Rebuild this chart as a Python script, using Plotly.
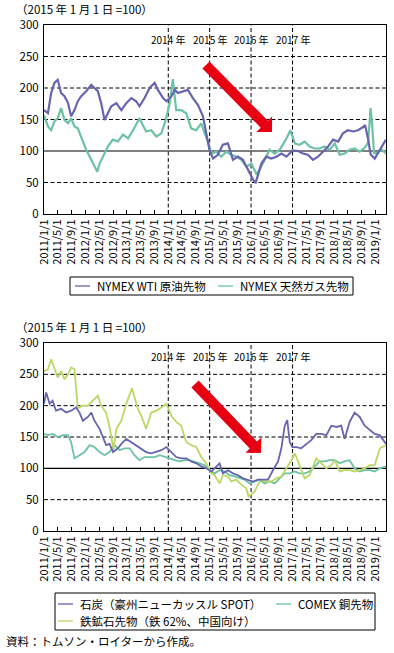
import math
import plotly.graph_objects as go

FONT = "Noto Sans CJK JP"
W, H = 394, 653
PL, PR = 44, 386  # plot-area left/right in pixels

# ---------------- data ----------------
TICK_LABELS = ["2011/1/1", "2011/5/1", "2011/9/1", "2012/1/1", "2012/5/1", "2012/9/1",
               "2013/1/1", "2013/5/1", "2013/9/1", "2014/1/1", "2014/5/1", "2014/9/1",
               "2015/1/1", "2015/5/1", "2015/9/1", "2016/1/1", "2016/5/1", "2016/9/1",
               "2017/1/1", "2017/5/1", "2017/9/1", "2018/1/1", "2018/5/1", "2018/9/1",
               "2019/1/1"]
Y_TICKS = [0, 50, 100, 150, 200, 250, 300]
YEAR_MARKS = ["2014", "2015", "2016", "2017"]
X_RANGE = ["2011-01-01", "2019-04-05"]

wti_dates = ["2011-01-01", "2011-02-05", "2011-03-05", "2011-04-03", "2011-05-02", "2011-06-01",
             "2011-07-01", "2011-08-01", "2011-08-28", "2011-09-27", "2011-10-26", "2011-11-25",
             "2012-01-08", "2012-02-22", "2012-03-21", "2012-04-20", "2012-05-19", "2012-06-18",
             "2012-07-17", "2012-08-16", "2012-09-30", "2012-11-13", "2012-12-27", "2013-02-09",
             "2013-03-24", "2013-04-22", "2013-06-06", "2013-07-20", "2013-09-03", "2013-10-02",
             "2013-11-16", "2013-12-15", "2014-01-29", "2014-02-27", "2014-03-27", "2014-05-10",
             "2014-06-23", "2014-08-06", "2014-09-20", "2014-11-03", "2014-12-02", "2015-01-01",
             "2015-01-31", "2015-03-14", "2015-04-27", "2015-06-11", "2015-07-25", "2015-09-08",
             "2015-10-21", "2015-12-05", "2016-01-18", "2016-02-10", "2016-03-05", "2016-04-01",
             "2016-05-14", "2016-06-28", "2016-08-11", "2016-09-24", "2016-11-08", "2016-12-31",
             "2017-02-19", "2017-04-02", "2017-05-16", "2017-06-30", "2017-08-13", "2017-09-27",
             "2017-11-10", "2017-12-24", "2018-02-07", "2018-03-21", "2018-05-04", "2018-06-18",
             "2018-08-01", "2018-09-15", "2018-10-03", "2018-10-28", "2018-11-20", "2018-12-26",
             "2019-02-09", "2019-04-05"]
wti_values = [165, 160, 192, 208, 213, 192,
              187, 176, 155, 165, 179, 187,
              195, 205, 200, 195, 176, 149,
              160, 171, 176, 165, 176, 184,
              179, 171, 184, 200, 208, 197,
              184, 179, 187, 197, 192, 195,
              197, 184, 173, 155, 128, 100,
              88, 94, 110, 112, 86, 91,
              86, 70, 55, 49, 64, 80,
              91, 88, 91, 96, 91, 101,
              100, 96, 94, 86, 91, 99,
              107, 118, 115, 128, 133, 131,
              133, 138, 141, 120, 95, 88,
              101, 118]

gas_dates = ["2011-01-01", "2011-02-05", "2011-03-05", "2011-04-03", "2011-05-02", "2011-06-01",
             "2011-07-01", "2011-08-01", "2011-08-28", "2011-09-27", "2011-10-26", "2011-11-25",
             "2012-01-08", "2012-02-22", "2012-04-15", "2012-05-05", "2012-06-03", "2012-07-17",
             "2012-08-30", "2012-10-14", "2012-11-28", "2013-01-11", "2013-02-24", "2013-04-22",
             "2013-05-22", "2013-06-20", "2013-08-04", "2013-09-18", "2013-11-01", "2013-12-09",
             "2014-01-14", "2014-02-10", "2014-03-12", "2014-04-25", "2014-06-08", "2014-07-22",
             "2014-09-05", "2014-10-19", "2014-11-18", "2014-12-17", "2015-01-16", "2015-03-01",
             "2015-04-13", "2015-05-27", "2015-07-10", "2015-08-24", "2015-10-07", "2015-11-20",
             "2016-01-04", "2016-02-16", "2016-03-16", "2016-04-30", "2016-06-13", "2016-07-27",
             "2016-09-10", "2016-11-08", "2016-12-13", "2017-01-21", "2017-03-04", "2017-04-17",
             "2017-06-01", "2017-07-14", "2017-08-28", "2017-10-11", "2017-11-25", "2018-01-08",
             "2018-02-21", "2018-04-05", "2018-05-19", "2018-07-02", "2018-08-16", "2018-09-29",
             "2018-10-29", "2018-11-13", "2018-11-20", "2018-12-05", "2018-12-20", "2019-01-10",
             "2019-02-24", "2019-04-05"]
gas_values = [157, 139, 133, 147, 152, 168,
              149, 144, 152, 139, 136, 123,
              102, 86, 67, 80, 91, 107,
              118, 115, 126, 120, 133, 152,
              141, 131, 133, 123, 128, 149,
              176, 214, 165, 165, 160, 136,
              133, 144, 128, 115, 96, 99,
              91, 99, 94, 91, 86, 75,
              80, 64, 70, 86, 102, 96,
              102, 120, 133, 112, 110, 115,
              107, 104, 104, 107, 102, 112,
              94, 96, 102, 104, 99, 105,
              113, 150, 168, 139, 97, 96,
              102, 96]

coal_dates = ["2011-01-01", "2011-01-20", "2011-02-20", "2011-03-18", "2011-04-17", "2011-06-01",
              "2011-07-15", "2011-08-28", "2011-10-11", "2011-11-10", "2011-12-10", "2012-01-23",
              "2012-02-22", "2012-03-21", "2012-05-05", "2012-06-03", "2012-07-02", "2012-08-01",
              "2012-09-01", "2012-10-14", "2012-11-13", "2012-12-27", "2013-02-09", "2013-03-24",
              "2013-05-07", "2013-06-20", "2013-08-04", "2013-09-18", "2013-11-01", "2013-12-15",
              "2014-01-29", "2014-03-12", "2014-04-25", "2014-06-08", "2014-07-22", "2014-09-05",
              "2014-10-19", "2014-12-02", "2015-01-16", "2015-03-01", "2015-03-29", "2015-04-27",
              "2015-06-11", "2015-07-25", "2015-09-08", "2015-10-21", "2015-12-05", "2016-01-18",
              "2016-03-02", "2016-04-15", "2016-05-29", "2016-07-12", "2016-08-26", "2016-09-24",
              "2016-10-24", "2016-11-15", "2016-12-07", "2016-12-30", "2017-02-05", "2017-03-18",
              "2017-05-02", "2017-06-15", "2017-07-29", "2017-09-12", "2017-10-26", "2017-12-09",
              "2018-01-23", "2018-03-06", "2018-04-05", "2018-05-19", "2018-07-02", "2018-08-16",
              "2018-09-29", "2018-11-13", "2018-12-26", "2019-02-09", "2019-04-05"]
coal_values = [203, 221, 203, 208, 192, 195,
               189, 192, 197, 189, 176, 182,
               189, 176, 163, 150, 137, 139,
               126, 132, 139, 147, 142, 137,
               132, 126, 124, 126, 129, 134,
               126, 118, 116, 116, 111, 108,
               103, 100, 95, 103, 108, 92,
               97, 92, 89, 84, 82, 79,
               82, 82, 82, 97, 111, 132,
               168, 177, 142, 134, 134, 132,
               139, 145, 155, 155, 153, 168,
               166, 168, 147, 174, 189, 182,
               168, 161, 155, 153, 139]

copper_dates = ["2011-01-01", "2011-02-05", "2011-03-18", "2011-05-02", "2011-06-15", "2011-08-01",
                "2011-08-28", "2011-09-27", "2011-11-10", "2011-12-25", "2012-02-07", "2012-03-21",
                "2012-05-05", "2012-06-18", "2012-08-01", "2012-09-15", "2012-10-29", "2012-12-12",
                "2013-01-26", "2013-03-09", "2013-04-22", "2013-06-06", "2013-07-20", "2013-09-03",
                "2013-10-17", "2013-12-01", "2014-01-14", "2014-02-27", "2014-04-10", "2014-05-24",
                "2014-07-07", "2014-08-21", "2014-10-04", "2014-11-18", "2015-01-01", "2015-02-14",
                "2015-03-29", "2015-05-12", "2015-06-25", "2015-08-09", "2015-09-22", "2015-11-05",
                "2015-12-19", "2016-02-02", "2016-03-16", "2016-04-30", "2016-06-13", "2016-07-27",
                "2016-09-10", "2016-10-24", "2016-12-07", "2017-01-21", "2017-03-04", "2017-04-17",
                "2017-06-01", "2017-07-14", "2017-08-28", "2017-10-11", "2017-11-25", "2018-01-08",
                "2018-02-21", "2018-04-05", "2018-05-19", "2018-07-02", "2018-08-16", "2018-09-29",
                "2018-11-13", "2018-12-26", "2019-02-09", "2019-04-05"]
copper_values = [155, 153, 155, 150, 153, 153,
                 142, 116, 121, 126, 137, 134,
                 126, 121, 126, 137, 129, 132,
                 132, 121, 113, 118, 118, 118,
                 121, 118, 116, 113, 111, 113,
                 113, 111, 108, 105, 97, 92,
                 97, 95, 89, 87, 84, 82,
                 76, 79, 82, 76, 79, 76,
                 84, 92, 92, 95, 92, 92,
                 95, 103, 111, 111, 113, 113,
                 108, 111, 113, 100, 95, 97,
                 97, 95, 100, 103]

iron_dates = ["2011-01-01", "2011-02-05", "2011-03-05", "2011-04-03", "2011-05-02", "2011-06-01",
              "2011-07-01", "2011-08-01", "2011-08-28", "2011-09-27", "2011-10-11", "2011-10-26",
              "2011-12-10", "2012-01-23", "2012-03-07", "2012-04-20", "2012-05-19", "2012-07-02",
              "2012-08-01", "2012-09-05", "2012-09-30", "2012-11-13", "2012-12-27", "2013-02-15",
              "2013-03-05", "2013-04-08", "2013-05-07", "2013-06-20", "2013-08-04", "2013-09-18",
              "2013-11-01", "2013-12-15", "2014-01-29", "2014-03-12", "2014-04-25", "2014-06-08",
              "2014-07-22", "2014-09-05", "2014-10-19", "2014-12-02", "2015-01-16", "2015-02-14",
              "2015-03-29", "2015-04-27", "2015-06-11", "2015-07-10", "2015-08-24", "2015-10-07",
              "2015-11-20", "2015-12-10", "2016-02-02", "2016-03-02", "2016-04-01", "2016-05-14",
              "2016-06-28", "2016-08-11", "2016-09-24", "2016-11-08", "2016-12-22", "2017-01-21",
              "2017-03-04", "2017-04-17", "2017-06-01", "2017-07-29", "2017-09-12", "2017-10-26",
              "2017-12-09", "2018-01-08", "2018-02-21", "2018-04-05", "2018-05-19", "2018-07-02",
              "2018-08-16", "2018-09-29", "2018-11-13", "2018-12-26", "2019-02-09", "2019-04-05"]
iron_values = [255, 258, 274, 258, 245, 255,
               242, 250, 261, 258, 232, 196,
               200, 200, 208, 216, 200, 189,
               166, 130, 163, 176, 203, 228,
               216, 195, 184, 163, 189, 192,
               197, 203, 184, 174, 168, 142,
               137, 134, 118, 108, 92, 89,
               76, 89, 87, 79, 82, 74,
               68, 55, 63, 74, 82, 79,
               79, 84, 87, 100, 113, 124,
               105, 84, 89, 116, 108, 100,
               105, 113, 95, 97, 97, 95,
               97, 100, 105, 105, 132, 137]

NAMES_TOP = ["NYMEX WTI 原油先物", "NYMEX 天然ガス先物"]
NAMES_BOTTOM = ["石炭（豪州ニューカッスル SPOT）", "COMEX 銅先物", "鉄鉱石先物（鉄 62%、中国向け）"]
UNIT_TEXT = "（2015 年 1 月 1 日 =100）"
SOURCE_TEXT = "資料：トムソン・ロイターから作成。"

PURPLE = "#6764b0"
TEAL = "#6cc2a3"
GREEN = "#bad865"
RED = "#e60012"


# ---------------- helpers (pixel -> paper) ----------------
def fx(px):
    return (px - PL) / (PR - PL)


def fy(py):
    return 1 - py / H


def label_to_iso(s):
    y, m, d = s.split("/")
    return f"{y}-{int(m):02d}-{int(d):02d}"


TICK_VALS = [label_to_iso(s) for s in TICK_LABELS]

fig = go.Figure()

# top chart
fig.add_trace(go.Scatter(x=gas_dates, y=gas_values, mode="lines", name=NAMES_TOP[1],
                         line=dict(color=TEAL, width=2.2), xaxis="x", yaxis="y",
                         showlegend=False, hoverinfo="skip"))
fig.add_trace(go.Scatter(x=wti_dates, y=wti_values, mode="lines", name=NAMES_TOP[0],
                         line=dict(color=PURPLE, width=2.2), xaxis="x", yaxis="y",
                         showlegend=False, hoverinfo="skip"))
# bottom chart
fig.add_trace(go.Scatter(x=copper_dates, y=copper_values, mode="lines", name=NAMES_BOTTOM[1],
                         line=dict(color=TEAL, width=1.8), xaxis="x2", yaxis="y2",
                         showlegend=False, hoverinfo="skip"))
fig.add_trace(go.Scatter(x=iron_dates, y=iron_values, mode="lines", name=NAMES_BOTTOM[2],
                         line=dict(color=GREEN, width=1.8), xaxis="x2", yaxis="y2",
                         showlegend=False, hoverinfo="skip"))
fig.add_trace(go.Scatter(x=coal_dates, y=coal_values, mode="lines", name=NAMES_BOTTOM[0],
                         line=dict(color=PURPLE, width=1.8), xaxis="x2", yaxis="y2",
                         showlegend=False, hoverinfo="skip"))

xcommon = dict(type="date", range=X_RANGE, tickmode="array", tickvals=TICK_VALS,
               ticktext=TICK_LABELS, tickangle=-90, ticks="inside", ticklen=4,
               tickcolor="black", tickwidth=1,
               tickfont=dict(family=FONT, size=11, color="black"),
               showgrid=False, showline=True, linecolor="black", linewidth=1,
               mirror=True, zeroline=False, fixedrange=True, automargin=False)
ycommon = dict(range=[0, 300], tickmode="array", tickvals=Y_TICKS, ticks="",
               tickfont=dict(family=FONT, size=11.5, color="black"),
               showgrid=False, showline=True, linecolor="black", linewidth=1,
               mirror=True, zeroline=False, fixedrange=True, ticklabelstandoff=2,
               automargin=False)

fig.update_layout(
    template="none",
    width=W, height=H,
    margin=dict(l=PL, r=W - PR, t=0, b=0, pad=0, autoexpand=False),
    paper_bgcolor="white", plot_bgcolor="white",
    font=dict(family=FONT, color="black"),
    xaxis=dict(xcommon, domain=[0, 1], anchor="y"),
    yaxis=dict(ycommon, domain=[fy(214), fy(25)], anchor="x"),
    xaxis2=dict(xcommon, domain=[0, 1], anchor="y2"),
    yaxis2=dict(ycommon, domain=[fy(531), fy(343)], anchor="x2"),
    showlegend=False,
)

DASH = "4px,2.5px"
shapes = []
annotations = []
for xa, ya, ytxt in [("x", "y", 40), ("x2", "y2", 357)]:
    for v in [50, 150, 200, 250]:
        shapes.append(dict(type="line", xref=f"{xa} domain", yref=ya, x0=0, x1=1, y0=v, y1=v,
                           line=dict(color="black", width=1, dash=DASH), layer="below"))
    shapes.append(dict(type="line", xref=f"{xa} domain", yref=ya, x0=0, x1=1, y0=100, y1=100,
                       line=dict(color="black", width=1.2), layer="below"))
    for yr in YEAR_MARKS:
        d = f"{yr}-01-01"
        shapes.append(dict(type="line", xref=xa, yref=f"{ya} domain", x0=d, x1=d, y0=0, y1=1,
                           line=dict(color="black", width=1, dash=DASH), layer="below"))
        annotations.append(dict(x=d, xref=xa, y=fy(ytxt), yref="paper", text=f"{yr} 年",
                                showarrow=False, xanchor="center", yanchor="middle",
                                font=dict(family=FONT, size=10, color="black")))


def arrow_path(tail, tip, half_shaft=5.0, half_head=11.0, head_len=11.0):
    tx, ty = tail
    px_, py_ = tip
    dx, dy = px_ - tx, py_ - ty
    ln = math.hypot(dx, dy)
    ux, uy = dx / ln, dy / ln
    nx, ny = -uy, ux
    bx, by = px_ - head_len * ux, py_ - head_len * uy
    pts = [(tx + half_shaft * nx, ty + half_shaft * ny),
           (bx + half_shaft * nx, by + half_shaft * ny),
           (bx + half_head * nx, by + half_head * ny),
           (px_, py_),
           (bx - half_head * nx, by - half_head * ny),
           (bx - half_shaft * nx, by - half_shaft * ny),
           (tx - half_shaft * nx, ty - half_shaft * ny)]
    return "M " + " L ".join(f"{fx(a):.5f},{fy(b):.5f}" for a, b in pts) + " Z"


for tail, tip in [((206, 65), (272, 132)), ((195, 384), (261, 453))]:
    shapes.append(dict(type="path", xref="paper", yref="paper", path=arrow_path(tail, tip),
                       fillcolor=RED, line=dict(width=0), layer="above"))

# unit labels and source
for ytxt in [9, 327]:
    annotations.append(dict(x=fx(14), xref="paper", y=fy(ytxt), yref="paper", text=UNIT_TEXT,
                            showarrow=False, xanchor="left", yanchor="middle",
                            font=dict(family=FONT, size=11.5, color="black")))
annotations.append(dict(x=fx(4), xref="paper", y=fy(641), yref="paper", text=SOURCE_TEXT,
                        showarrow=False, xanchor="left", yanchor="middle",
                        font=dict(family=FONT, size=11.5, color="black")))


# legends (drawn by hand to match the layout)
def legend_box(x0, y0, x1, y1):
    shapes.append(dict(type="rect", xref="paper", yref="paper", x0=fx(x0), x1=fx(x1),
                       y0=fy(y1), y1=fy(y0), line=dict(color="black", width=1),
                       fillcolor="white", layer="above"))


def legend_item(xl, yc, color, text):
    shapes.append(dict(type="line", xref="paper", yref="paper", x0=fx(xl), x1=fx(xl + 15),
                       y0=fy(yc), y1=fy(yc), line=dict(color=color, width=1.3), layer="above"))
    annotations.append(dict(x=fx(xl + 20), xref="paper", y=fy(yc), yref="paper", text=text,
                            showarrow=False, xanchor="left", yanchor="middle",
                            font=dict(family=FONT, size=11.5, color="black")))


legend_box(70, 277, 353, 295)
legend_item(75, 286, PURPLE, NAMES_TOP[0])
legend_item(218, 286, TEAL, NAMES_TOP[1])

legend_box(55, 593, 375, 630)
legend_item(58, 604, PURPLE, NAMES_BOTTOM[0])
legend_item(276, 604, TEAL, NAMES_BOTTOM[1])
legend_item(58, 621, GREEN, NAMES_BOTTOM[2])

fig.update_layout(shapes=shapes, annotations=annotations)

# the page's default 8px body margin would push the figure off its 394x653 frame
POST_JS = ("document.body.style.margin='0';document.body.style.padding='0';"
           "document.documentElement.style.overflow='hidden';")
fig.write_html("out.html", post_script=POST_JS,
               config={"displayModeBar": False, "staticPlot": True})
